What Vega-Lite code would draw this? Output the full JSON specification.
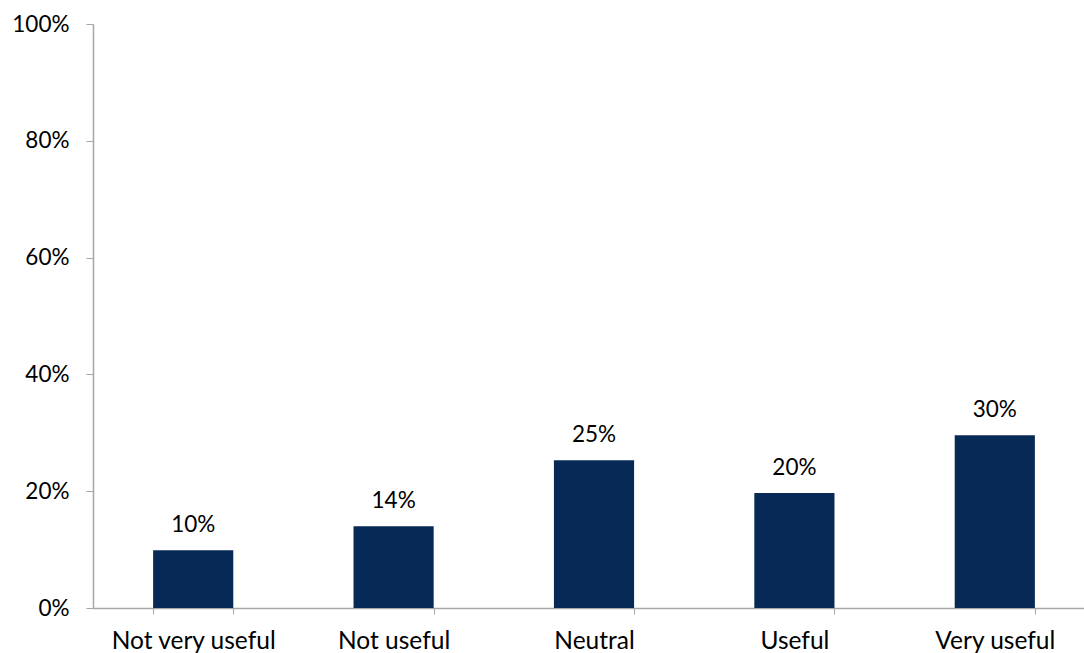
{
  "$schema": "https://vega.github.io/schema/vega-lite/v6.json",
  "autosize": {"type": "none"},
  "padding": {"left": 93, "top": 24, "right": 0, "bottom": 45},
  "width": 1002,
  "height": 584,
  "background": "white",
  "config": {
    "view": {"stroke": null},
    "font": "Lato",
    "axis": {"labelFont": "Lato", "labelColor": "#000000", "domainColor": "#a6a6a6", "tickColor": "#a6a6a6", "grid": false}
  },
  "data": {
    "values": [
      {"rating": "Not very useful", "share": 0.099},
      {"rating": "Not useful", "share": 0.14},
      {"rating": "Neutral", "share": 0.253},
      {"rating": "Useful", "share": 0.197},
      {"rating": "Very useful", "share": 0.296}
    ]
  },
  "encoding": {
    "x": {
      "field": "rating",
      "type": "nominal",
      "sort": null,
      "scale": {"paddingInner": 0.6, "paddingOuter": 0.3},
      "axis": {
        "title": null,
        "labelAngle": 0,
        "labelFontSize": 24.5,
        "labelPadding": 15,
        "tickBand": "extent",
        "tickSize": 6,
        "domainWidth": 1.5
      }
    },
    "y": {
      "field": "share",
      "type": "quantitative",
      "scale": {"domain": [0, 1]},
      "axis": {
        "title": null,
        "format": ".0%",
        "values": [0, 0.2, 0.4, 0.6, 0.8, 1],
        "labelFontSize": 22.5,
        "labelPadding": 17,
        "tickSize": 7,
        "domainWidth": 1.5
      }
    }
  },
  "layer": [
    {"mark": {"type": "bar", "color": "#062a55"}},
    {
      "mark": {"type": "text", "baseline": "alphabetic", "dy": -18, "fontSize": 22.5, "color": "#000000"},
      "encoding": {"text": {"field": "share", "type": "quantitative", "format": ".0%"}}
    }
  ]
}
